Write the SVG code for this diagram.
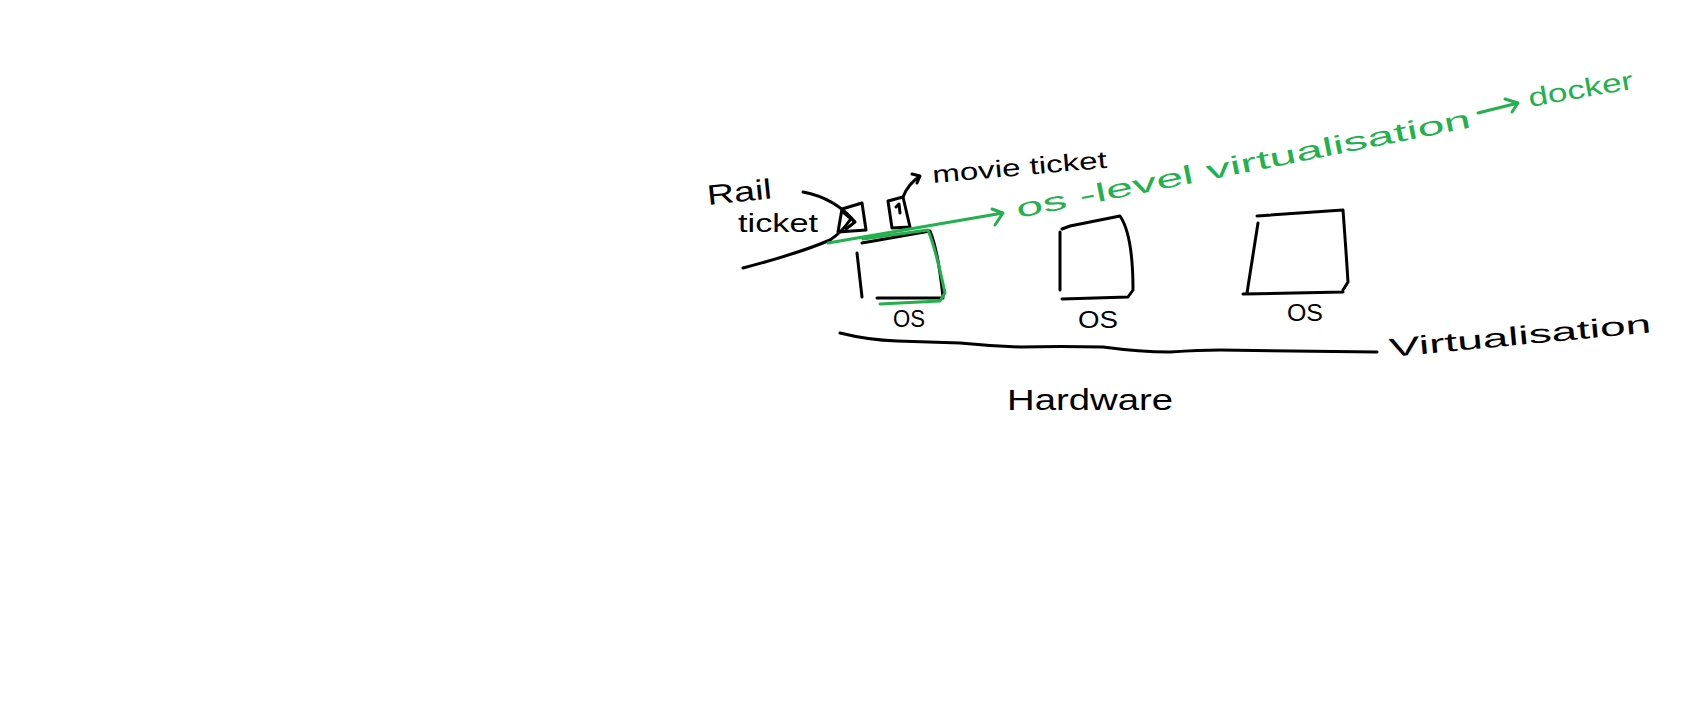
<svg xmlns="http://www.w3.org/2000/svg" width="1691" height="717" viewBox="0 0 1691 717">
<style>
.k{fill:none;stroke:#000;stroke-width:3;stroke-linecap:round;stroke-linejoin:round}
.g{fill:none;stroke:#22b14c;stroke-width:3;stroke-linecap:round;stroke-linejoin:round}
.tk{font-family:"Liberation Sans",Arial,sans-serif;fill:#000}
.tg{font-family:"Liberation Sans",Arial,sans-serif;fill:#22b14c}
</style>
<rect width="1691" height="717" fill="#fff"/>
<g id="rail-ticket">
<path class="k" d="M842,209 L862,203 L866,230 L838,232 Z"/>
<text class="tk" x="708" y="205" font-size="28" textLength="65" lengthAdjust="spacingAndGlyphs" transform="rotate(-6 708 205)">Rail</text>
<text class="tk" x="738" y="232" font-size="26" textLength="80" lengthAdjust="spacingAndGlyphs">ticket</text>
</g>
<g id="movie-ticket">
<path class="k" d="M888,201 L903,197 L910,227 L892,228 Z M896,207 L899,204 L900,213"/>
<text class="tk" x="933" y="183" font-size="24" textLength="175" lengthAdjust="spacingAndGlyphs" transform="rotate(-5 933 183)">movie ticket</text>
</g>
<g id="os1">
<path class="k" d="M857,253 L862,297 M862,243 L930,231 Q938,250 943,297 M877,298 L943,298"/>
<path class="g" d="M863,239 L928,230 Q936,250 945,293 L940,301 L880,304"/>
<text class="tk" x="893" y="327" font-size="24" textLength="32" lengthAdjust="spacingAndGlyphs">OS</text>
</g>
<g id="os2">
<path class="k" d="M1060,232 L1060,290 M1062,229 L1070,226 L1120,216 Q1133,235 1133,290 L1128,297 L1062,299"/>
<text class="tk" x="1078" y="328" font-size="24" textLength="40" lengthAdjust="spacingAndGlyphs">OS</text>
</g>
<g id="os3">
<path class="k" d="M1257,216 L1343,210 Q1346,250 1348,282 L1343,290 M1258,223 L1247,293 M1243,294 L1343,292"/>
<text class="tk" x="1287" y="321" font-size="24" textLength="36" lengthAdjust="spacingAndGlyphs">OS</text>
</g>
<g id="virtualisation">
<path class="k" d="M840,333 Q868,340 897,341 Q930,342 960,343 Q990,346 1020,347 Q1060,346 1103,347 Q1140,352 1170,352 Q1200,350 1220,350 L1377,352"/>
<text class="tk" x="1390" y="357" font-size="26" textLength="263" lengthAdjust="spacingAndGlyphs" transform="rotate(-5.4 1390 357)">Virtualisation</text>
</g>
<g id="hardware">
<text class="tk" x="1007" y="410" font-size="30" textLength="166" lengthAdjust="spacingAndGlyphs">Hardware</text>
</g>
<g id="os-level">
<text class="tg" x="1018" y="218" font-size="26" textLength="463" lengthAdjust="spacingAndGlyphs" transform="rotate(-11.3 1018 218)">os -level virtualisation</text>
</g>
<g id="docker">
<text class="tg" x="1530" y="107" font-size="26" textLength="106" lengthAdjust="spacingAndGlyphs" transform="rotate(-10 1530 107)">docker</text>
</g>
<g id="connectors">
<path class="k" d="M803,192 Q835,198 855,222 M843,212 L855,222 L846,229"/>
<path class="k" d="M743,268 Q800,253 830,240 Q842,232 850,220"/>
<path class="k" d="M903,197 Q908,184 920,176 M912,174 L920,176 L917,183"/>
<path class="g" d="M828,243 L1003,213 M992,209 L1003,213 L995,225"/>
<path class="g" d="M1478,113 L1518,103 M1505,99 L1518,103 L1512,112"/>
</g>
</svg>
